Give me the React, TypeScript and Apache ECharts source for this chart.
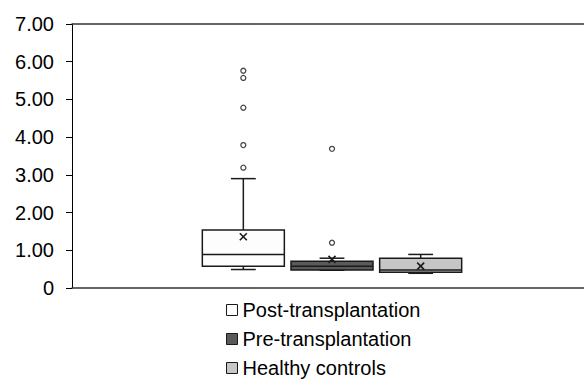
import React, { useEffect, useRef } from "react";
import * as echarts from "echarts";

const categories = ["Post-transplantation", "Pre-transplantation", "Healthy controls"];
// [min, q1, median, q3, max]
const postBox = [0.49, 0.58, 0.89, 1.54, 2.9];
const preBox = [0.47, 0.48, 0.58, 0.71, 0.79];
const healthyBox = [0.39, 0.42, 0.48, 0.79, 0.89];
const means = [1.36, 0.76, 0.58];
const postOutliers = [5.76, 5.57, 4.78, 3.79, 3.19];
const preOutliers = [3.69, 1.2];
const healthyOutliers: number[] = [];

const fills = ["#fdfdfd", "#5a5a5a", "#c6c6c6"];
const FONT = "Liberation Sans";
const STROKE = "#1a1a1a";

export default function App() {
  const ref = useRef<HTMLDivElement>(null);
  useEffect(() => {
    if (!ref.current) return;
    const chart = echarts.init(ref.current, null, { renderer: "svg" });
    const boxes = [postBox, preBox, healthyBox];
    const outliers = [postOutliers, preOutliers, healthyOutliers];

    const renderItem = (fill: string) => (params: any, api: any) => {
      const x = api.value(0);
      const pMin = api.coord([x, api.value(1)]);
      const pQ1 = api.coord([x, api.value(2)]);
      const pMed = api.coord([x, api.value(3)]);
      const pQ3 = api.coord([x, api.value(4)]);
      const pMax = api.coord([x, api.value(5)]);
      const pMean = api.coord([x, api.value(6)]);
      const band = api.size([1, 0])[0];
      const bw = band * 0.925;
      const cw = band * 0.28;
      const cx = pMed[0];
      const ls = { stroke: STROKE, lineWidth: 1.5 };
      const m = 3.5;
      return {
        type: "group",
        children: [
          { type: "line", shape: { x1: cx, y1: pMax[1], x2: cx, y2: pQ3[1] }, style: ls },
          { type: "line", shape: { x1: cx, y1: pQ1[1], x2: cx, y2: pMin[1] }, style: ls },
          { type: "line", shape: { x1: cx - cw / 2, y1: pMax[1], x2: cx + cw / 2, y2: pMax[1] }, style: ls },
          { type: "line", shape: { x1: cx - cw / 2, y1: pMin[1], x2: cx + cw / 2, y2: pMin[1] }, style: ls },
          {
            type: "rect",
            shape: { x: cx - bw / 2, y: pQ3[1], width: bw, height: pQ1[1] - pQ3[1] },
            style: { fill, stroke: STROKE, lineWidth: 1.5 },
          },
          { type: "line", shape: { x1: cx - bw / 2, y1: pMed[1], x2: cx + bw / 2, y2: pMed[1] }, style: ls },
          { type: "line", shape: { x1: cx - m, y1: pMean[1] - m, x2: cx + m, y2: pMean[1] + m }, style: { stroke: STROKE, lineWidth: 1.6 } },
          { type: "line", shape: { x1: cx + m, y1: pMean[1] - m, x2: cx - m, y2: pMean[1] + m }, style: { stroke: STROKE, lineWidth: 1.6 } },
        ],
      };
    };

    const series: any[] = categories.map((name, i) => ({
      name,
      type: "custom",
      xAxisIndex: 2,
      yAxisIndex: 1,
      renderItem: renderItem(fills[i]),
      encode: { x: 0, y: [1, 2, 3, 4, 5, 6] },
      data: [[i, ...boxes[i], means[i]]],
      itemStyle: { color: fills[i] },
      z: 3,
    }));
    series.push({
      name: "outliers",
      type: "scatter",
      xAxisIndex: 2,
      yAxisIndex: 1,
      symbol: "circle",
      symbolSize: 5,
      itemStyle: { color: "#ffffff", borderColor: STROKE, borderWidth: 1.3 },
      data: outliers.flatMap((arr, i) => arr.map((v) => [i, v])),
      z: 4,
    });

    const legendTops = [300, 329, 358];
    const legend = categories.map((name, i) => ({
      orient: "horizontal",
      left: 226,
      top: legendTops[i],
      padding: 0,
      itemWidth: 11,
      itemHeight: 11,
      icon: "rect",
      selectedMode: false,
      textStyle: { fontFamily: FONT, fontSize: 20, lineHeight: 20, color: "#000" },
      data: [
        {
          name,
          itemStyle: { color: fills[i], borderColor: STROKE, borderWidth: 1 },
        },
      ],
    }));

    chart.setOption({
      animation: false,
      grid: [
        { left: 72, right: 0, top: 24, bottom: 92 },
        { left: 199, right: 119, top: 24, bottom: 92 },
      ],
      legend,
      xAxis: [
        {
          type: "category",
          gridIndex: 0,
          data: [""],
          axisLine: { show: true, lineStyle: { color: "#333", width: 1.5 } },
          axisTick: { show: false },
          axisLabel: { show: false },
        },
        {
          type: "category",
          gridIndex: 0,
          position: "top",
          data: [""],
          axisLine: { show: true, onZero: false, lineStyle: { color: "#333", width: 1.5 } },
          axisTick: { show: false },
          axisLabel: { show: false },
        },
        {
          type: "category",
          gridIndex: 1,
          data: categories,
          show: false,
        },
      ],
      yAxis: [
        {
          type: "value",
          gridIndex: 0,
          min: 0,
          max: 7,
          interval: 1,
          axisLine: { show: true, lineStyle: { color: "#000", width: 1 } },
          axisTick: { show: true, length: 6, lineStyle: { color: "#000" } },
          splitLine: { show: false },
          axisLabel: {
            margin: 18,
            fontFamily: FONT,
            fontSize: 20,
            color: "#000",
            formatter: (v: number) => (v === 0 ? "0" : v.toFixed(2)),
          },
        },
        {
          type: "value",
          gridIndex: 1,
          min: 0,
          max: 7,
          show: false,
        },
      ],
      series,
    });
    return () => chart.dispose();
  }, []);
  return (
    <div
      ref={ref}
      style={{ position: "absolute", left: 0, top: 0, width: 584, height: 380 }}
    />
  );
}
